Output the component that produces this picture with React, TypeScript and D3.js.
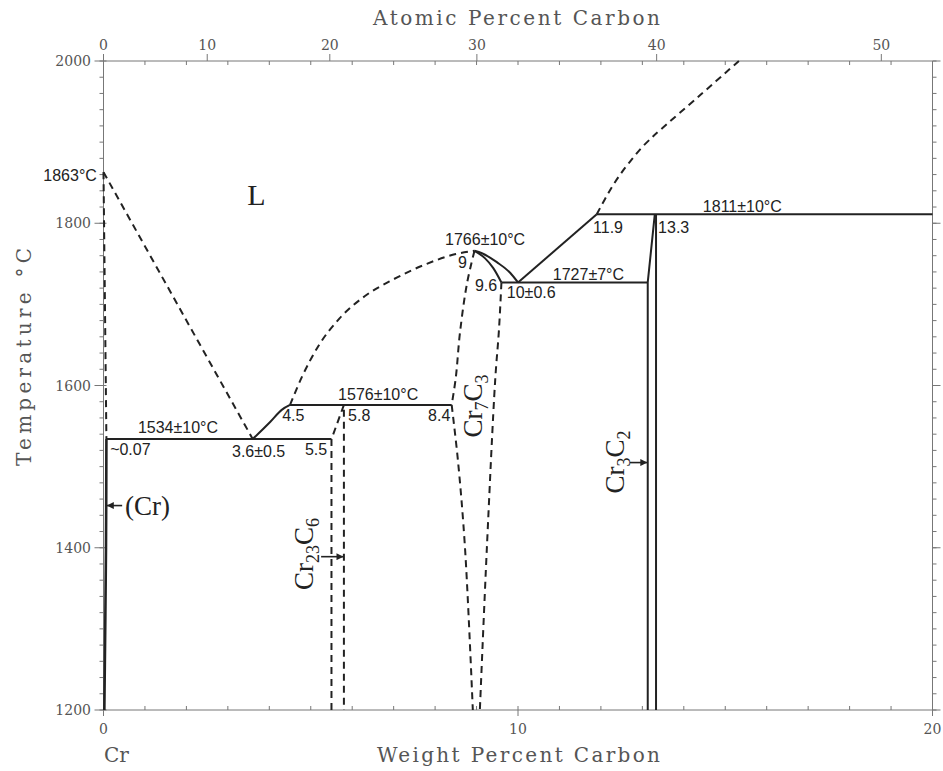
import React from "react";
import * as d3 from "d3";

// ---------- data (weight % C, temperature °C) ----------
const wtTickLabels = [0, 10, 20];
const wtMinorTicks = d3.range(0, 21, 1);
const atTickLabels = [0, 10, 20, 30, 40, 50];
const tempTickLabels = [1200, 1400, 1600, 1800, 2000];
const tempMinorTicks = d3.range(1200, 2001, 20);

const liquidusCr: [number, number][] = [[0, 1863], [3.6, 1534]];
const solidusCr: [number, number][] = [[0, 1863], [0.07, 1534]];
const solvusCr: [number, number][] = [[0.07, 1534], [0.06, 1400], [0.02, 1200]];
const eutectic1534: [number, number][] = [[0.07, 1534], [5.5, 1534]];
const liquidusEut: [number, number][] = [[3.6, 1534], [4.02, 1555], [4.3, 1570], [4.5, 1576]];
const peritectic1576: [number, number][] = [[4.5, 1576], [8.4, 1576]];
const liquidusCr7C3: [number, number][] = [
  [4.5, 1576], [4.8, 1612], [5.2, 1650], [5.7, 1683], [6.3, 1710], [7.0, 1731], [7.8, 1750], [8.5, 1762], [8.95, 1766],
];
const cr23c6Bound: [number, number][] = [[5.5, 1200], [5.5, 1534], [5.8, 1576], [5.8, 1200]];
const cr7c3LeftUpper: [number, number][] = [[8.95, 1766], [8.77, 1726], [8.6, 1665], [8.5, 1610], [8.4, 1576]];
const cr7c3LeftLower: [number, number][] = [[8.4, 1576], [8.55, 1508], [8.72, 1401], [8.91, 1200]];
const cr7c3Right: [number, number][] = [[9.6, 1727], [9.54, 1668], [9.45, 1607], [9.25, 1401], [9.08, 1200]];
const cr7c3Solidus: [number, number][] = [[8.95, 1766], [9.2, 1757], [9.4, 1745], [9.6, 1727]];
const cr7c3Liquidus: [number, number][] = [[8.95, 1766], [9.13, 1763], [9.49, 1752], [9.81, 1739], [10, 1727]];
const eutectic1727: [number, number][] = [[9.6, 1727], [13.13, 1727]];
const liquidusCr3C2: [number, number][] = [[10, 1727], [11.9, 1811]];
const peritectic1811: [number, number][] = [[11.9, 1811], [20, 1811]];
const cr3c2Left: [number, number][] = [[13.3, 1811], [13.13, 1727], [13.13, 1200]];
const cr3c2Right: [number, number][] = [[13.33, 1811], [13.33, 1200]];
const liquidusUpper: [number, number][] = [
  [11.9, 1811], [12.1, 1830], [12.3, 1847.4], [12.52, 1864], [12.75, 1879], [12.99, 1893.5], [13.25, 1906.7],
  [13.43, 1915], [14.39, 1957.8], [15.33, 2000],
];

// small annotation labels: text, wt, T, anchor
const valueLabels: [string, number, number, string][] = [
  ["1863°C", -0.16, 1852, "end"],
  ["1534±10°C", 0.83, 1541.5, "start"],
  ["~0.07", 0.16, 1514, "start"],
  ["3.6±0.5", 3.1, 1512, "start"],
  ["4.5", 4.31, 1556, "start"],
  ["5.5", 4.86, 1514, "start"],
  ["5.8", 5.9, 1556, "start"],
  ["1576±10°C", 5.66, 1582, "start"],
  ["8.4", 7.83, 1556, "start"],
  ["1766±10°C", 8.24, 1773, "start"],
  ["9", 8.55, 1745, "start"],
  ["9.6", 8.96, 1716.5, "start"],
  ["10±0.6", 9.73, 1708, "start"],
  ["1727±7°C", 10.84, 1730, "start"],
  ["11.9", 11.81, 1788, "start"],
  ["13.3", 13.38, 1788, "start"],
  ["1811±10°C", 14.46, 1814, "start"],
];

// phase arrows: [fromWt, toWt, T]
const phaseArrows: [number, number, number][] = [
  [0.45, 0.08, 1452],
  [5.25, 5.79, 1389],
  [12.7, 13.12, 1505],
];

// ---------- helpers ----------
const atToWt = (a: number) => (a * 12.011) / (a * 12.011 + (100 - a) * 51.996) * 100;

const W = 943, H = 771;
const x = d3.scaleLinear().domain([0, 20]).range([103.5, 932.5]);
const y = d3.scaleLinear().domain([1200, 2000]).range([710, 61]);

const lineLinear = d3.line<[number, number]>().x(d => x(d[0])).y(d => y(d[1]));
const lineSmooth = d3.line<[number, number]>().x(d => x(d[0])).y(d => y(d[1])).curve(d3.curveCatmullRom.alpha(0.5));
const lineMono = d3.line<[number, number]>().x(d => x(d[0])).y(d => y(d[1])).curve(d3.curveMonotoneX);

type Kind = "lin" | "smooth" | "mono";
const strokes: { pts: [number, number][]; dashed: boolean; kind: Kind; w?: number }[] = [
  { pts: liquidusCr, dashed: true, kind: "lin" },
  { pts: solidusCr, dashed: true, kind: "lin" },
  { pts: solvusCr, dashed: false, kind: "smooth", w: 2.6 },
  { pts: eutectic1534, dashed: false, kind: "lin" },
  { pts: liquidusEut, dashed: false, kind: "mono" },
  { pts: peritectic1576, dashed: false, kind: "lin" },
  { pts: liquidusCr7C3, dashed: true, kind: "mono" },
  { pts: cr23c6Bound, dashed: true, kind: "lin" },
  { pts: cr7c3LeftUpper, dashed: true, kind: "smooth" },
  { pts: cr7c3LeftLower, dashed: true, kind: "smooth" },
  { pts: cr7c3Right, dashed: true, kind: "smooth" },
  { pts: cr7c3Solidus, dashed: false, kind: "mono" },
  { pts: cr7c3Liquidus, dashed: false, kind: "mono" },
  { pts: eutectic1727, dashed: false, kind: "lin" },
  { pts: liquidusCr3C2, dashed: false, kind: "lin" },
  { pts: peritectic1811, dashed: false, kind: "lin" },
  { pts: cr3c2Left, dashed: false, kind: "lin" },
  { pts: cr3c2Right, dashed: false, kind: "lin" },
  { pts: liquidusUpper, dashed: true, kind: "smooth" },
];
const gens = { lin: lineLinear, smooth: lineSmooth, mono: lineMono };

const axisColor = "#777";
const axisText = "#555";
const ink = "#222";
const serif = "'DejaVu Serif', serif";
const sans = "'Liberation Sans', Arial, sans-serif";
const bigSerif = "'Liberation Serif', 'DejaVu Serif', serif";

export default function App() {
  const x0 = x(0), x1 = x(20), y0 = y(1200), y1 = y(2000);
  return (
    <svg width={W} height={H} style={{ position: "absolute", left: 0, top: 0, background: "#fff" }}>
      <defs>
        <marker id="ah" viewBox="0 0 10 10" refX="10" refY="5" markerWidth="9" markerHeight="7"
          markerUnits="userSpaceOnUse" orient="auto">
          <path d="M0,0 L10,5 L0,10 z" fill={ink} />
        </marker>
      </defs>
      <rect x={0} y={0} width={W} height={H} fill="#fff" />

      {/* frame */}
      <g stroke={axisColor} strokeWidth={1} fill="none">
        <line x1={x0} y1={y1} x2={x1} y2={y1} />
        <line x1={x0} y1={y0} x2={x1} y2={y0} />
        <line x1={x0} y1={y0} x2={x0} y2={y1} />
        <line x1={x1} y1={y0} x2={x1} y2={y1} />
        {wtMinorTicks.map(v => (
          <g key={"wm" + v}>
            <line x1={x(v)} x2={x(v)} y1={y0} y2={y0 - 4} />
            <line x1={x(v)} x2={x(v)} y1={y1} y2={y1 + 4} />
          </g>
        ))}
        {wtTickLabels.map(v => (
          <line key={"wM" + v} x1={x(v)} x2={x(v)} y1={y0} y2={y0 + 6} />
        ))}
        {atTickLabels.map(a => (
          <line key={"aM" + a} x1={x(atToWt(a))} x2={x(atToWt(a))} y1={y1} y2={y1 - 7} />
        ))}
        {tempMinorTicks.map(t => (
          <g key={"tm" + t}>
            <line x1={x0} x2={x0 - 4} y1={y(t)} y2={y(t)} />
            <line x1={x1} x2={x1 + 4} y1={y(t)} y2={y(t)} />
          </g>
        ))}
        {tempTickLabels.map(t => (
          <g key={"tM" + t}>
            <line x1={x0 - 9} x2={x0 + 3} y1={y(t)} y2={y(t)} />
            <line x1={x1} x2={x1 + 8} y1={y(t)} y2={y(t)} />
          </g>
        ))}
      </g>

      {/* tick labels */}
      <g fill={axisText} fontFamily={serif} fontSize={14}>
        {wtTickLabels.map(v => (
          <text key={"wl" + v} x={x(v)} y={734} textAnchor="middle">{v}</text>
        ))}
        {atTickLabels.map(a => (
          <text key={"al" + a} x={x(atToWt(a))} y={50} textAnchor="middle">{a}</text>
        ))}
        {tempTickLabels.map(t => (
          <text key={"tl" + t} x={91} y={y(t) + 5} textAnchor="end">{t}</text>
        ))}
      </g>

      {/* axis titles */}
      <g fill={axisText} fontFamily={serif} fontSize={20}>
        <text x={516.5} y={25} textAnchor="middle" textLength={287} lengthAdjust="spacing">Atomic Percent Carbon</text>
        <text x={518.5} y={762} textAnchor="middle" textLength={283} lengthAdjust="spacing">Weight Percent Carbon</text>
        <text x={104} y={762}>Cr</text>
        <text transform={`translate(31,357) rotate(-90)`} textAnchor="middle" textLength={218} lengthAdjust="spacing">Temperature °C</text>
      </g>

      {/* phase boundaries */}
      <g fill="none" stroke={ink} strokeLinejoin="round">
        {strokes.map((s, i) => (
          <path key={"s" + i} d={gens[s.kind](s.pts) || ""}
            strokeWidth={s.w ?? 2} strokeDasharray={s.dashed ? "7,5" : undefined} />
        ))}
      </g>

      {/* arrows */}
      <g stroke={ink} strokeWidth={1.6}>
        {phaseArrows.map((a, i) => (
          <line key={"ar" + i} x1={x(a[0])} y1={y(a[2])} x2={x(a[1])} y2={y(a[2])} markerEnd="url(#ah)" />
        ))}
      </g>

      {/* value labels */}
      <g fill={ink} fontFamily={sans} fontSize={16}>
        {valueLabels.map((l, i) => (
          <text key={"vl" + i} x={x(l[1])} y={y(l[2])} textAnchor={l[3]}>{l[0]}</text>
        ))}
      </g>

      {/* phase names */}
      <g fill={ink} fontFamily={bigSerif}>
        <text x={x(3.47)} y={y(1822.5)} fontSize={30}>L</text>
        <text x={x(0.52)} y={y(1440)} fontSize={27}>(Cr)</text>
        <text transform={`translate(${x(5.05)},${y(1348)}) rotate(-90)`} fontSize={27}>
          Cr<tspan fontSize={18} dy={6}>23</tspan><tspan dy={-6}>C</tspan><tspan fontSize={18} dy={6}>6</tspan>
        </text>
        <text transform={`translate(${x(9.13)},${y(1536)}) rotate(-90)`} fontSize={27}>
          Cr<tspan fontSize={18} dy={6}>7</tspan><tspan dy={-6}>C</tspan><tspan fontSize={18} dy={6}>3</tspan>
        </text>
        <text transform={`translate(${x(12.56)},${y(1467)}) rotate(-90)`} fontSize={27}>
          Cr<tspan fontSize={18} dy={6}>3</tspan><tspan dy={-6}>C</tspan><tspan fontSize={18} dy={6}>2</tspan>
        </text>
      </g>
    </svg>
  );
}
